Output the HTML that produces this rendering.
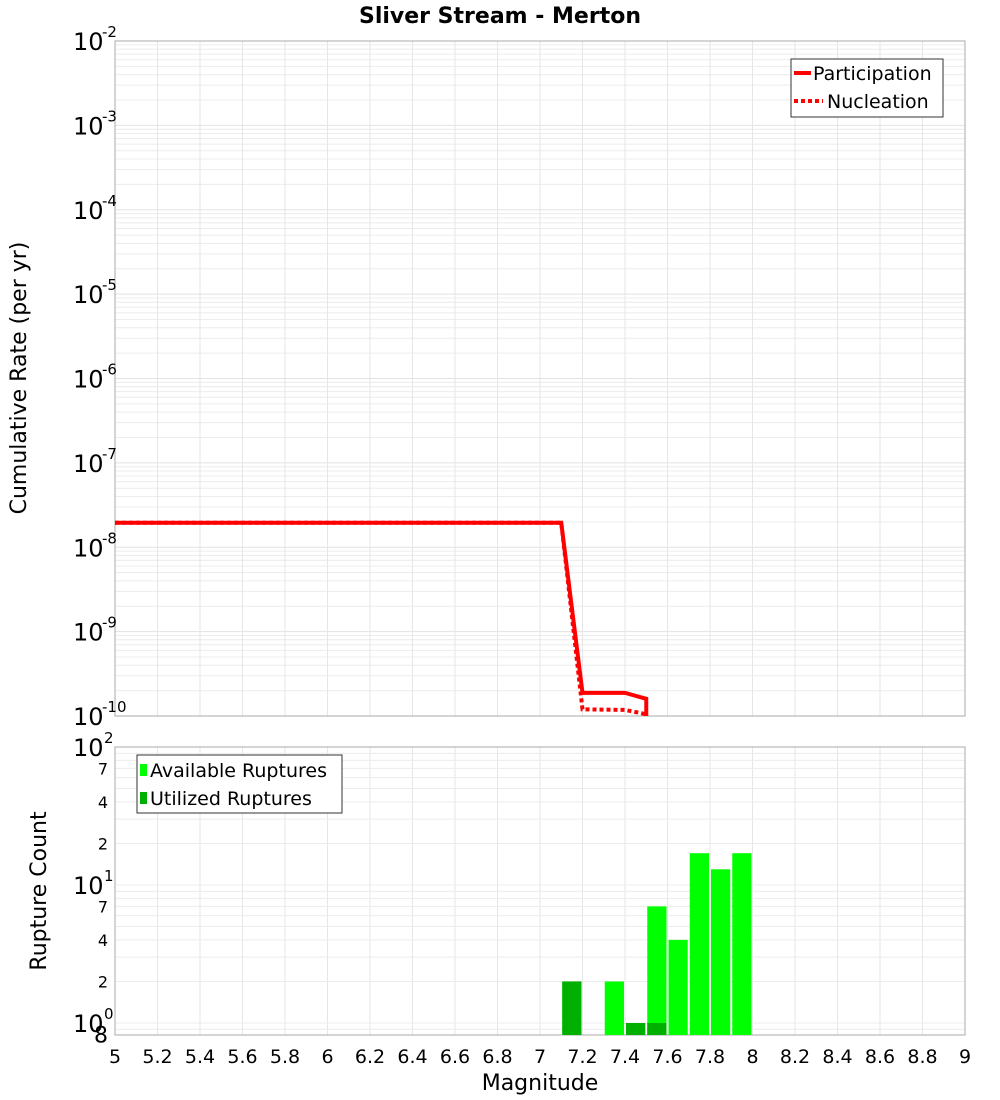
<!DOCTYPE html>
<html><head><meta charset="utf-8"><style>
html,body{margin:0;padding:0;background:#fff;}
svg{display:block;font-family:"DejaVu Sans","Liberation Sans",sans-serif;}
</style></head><body>
<svg id="chart" width="1000" height="1100" viewBox="0 0 1000 1100" xmlns="http://www.w3.org/2000/svg">
<text x="500" y="23" text-anchor="middle" font-size="22" font-weight="bold">Sliver Stream - Merton</text>
<g id="topG"></g><g id="botG"></g>
<text transform="translate(26,378) rotate(-90)" text-anchor="middle" font-size="22">Cumulative Rate (per yr)</text>
<text transform="translate(46,891) rotate(-90)" text-anchor="middle" font-size="22">Rupture Count</text>
<text x="540" y="1090" text-anchor="middle" font-size="22">Magnitude</text>
</svg>
<script>
const mags=[5,7.1,7.2,7.4,7.5,7.5];
const participation=[1.95e-8,1.95e-8,1.88e-10,1.88e-10,1.6e-10,1e-10];
const nucleation=[1.95e-8,1.95e-8,1.2e-10,1.18e-10,1.05e-10,1e-10];
const binStarts=[7.1,7.3,7.4,7.5,7.6,7.7,7.8,7.9];
const available=[2,2,1,7,4,17,13,17];
const utilized=[2,0,1,1,0,0,0,0];
const xTicks=[5,5.2,5.4,5.6,5.8,6,6.2,6.4,6.6,6.8,7,7.2,7.4,7.6,7.8,8,8.2,8.4,8.6,8.8,9];

const NS="http://www.w3.org/2000/svg";
const L=115,R=965;
const X=m=>L+(m-5)/4*(R-L);
const TT=41,TB=716;
const Yt=v=>TT+(-2-Math.log10(v))*(TB-TT)/8;
const BT=747,BB=1035;
const Yb=v=>BT+(2-Math.log10(v))*138;
function el(p,t,a,txt){const e=document.createElementNS(NS,t);for(const k in a)e.setAttribute(k,a[k]);if(txt!==undefined)e.textContent=txt;p.appendChild(e);return e;}
const topG=document.getElementById('topG'),botG=document.getElementById('botG');

for(let d=-10;d<-2;d++){for(let k=1;k<10;k++){const y=Yt(k*Math.pow(10,d));const g=el(topG,'line',{x1:L,x2:R,y1:y,y2:y,stroke:k==1?'#e2e2e2':'#ececec','stroke-width':1});

}}
xTicks.forEach(m=>{const g=el(topG,'line',{x1:X(m),x2:X(m),y1:TT,y2:TB,stroke:'#e6e6e6'});


const g2=el(botG,'line',{x1:X(m),x2:X(m),y1:BT,y2:BB,stroke:'#e6e6e6'});

});
const f1=el(topG,'rect',{x:L,y:TT,width:R-L,height:TB-TT,fill:'none',stroke:'#aaa'});


for(let d=-10;d<=-2;d++){const y=Yt(Math.pow(10,d));const t=el(topG,'text',{x:73,y:y+9,'font-size':24},'10');


const s=el(topG,'text',{x:102,y:y-4,'font-size':15},String(d));

}
const pts=(xs,ys,f)=>xs.map((m,i)=>X(m)+','+f(ys[i])).join(' ');
const nl=el(topG,'polyline',{points:pts(mags,nucleation,Yt),fill:'none',stroke:'#f00','stroke-width':4,'stroke-dasharray':'4,3'});


const pl=el(topG,'polyline',{points:pts(mags,participation,Yt),fill:'none',stroke:'#f00','stroke-width':4});


const lg=el(topG,'g',{});


el(lg,'rect',{x:791,y:59,width:152,height:58,fill:'#fff',stroke:'#333'});
el(lg,'line',{x1:794,x2:811,y1:73,y2:73,stroke:'#f00','stroke-width':4});
const lt1=el(lg,'text',{x:813,y:80,'font-size':19},'Participation');


el(lg,'line',{x1:794,x2:823,y1:101,y2:101,stroke:'#f00','stroke-width':4,'stroke-dasharray':'4,3'});
const lt2=el(lg,'text',{x:827,y:108,'font-size':19},'Nucleation');



for(let d=-1;d<2;d++){for(let k=1;k<10;k++){const v=k*Math.pow(10,d);const y=Yb(v);if(y>BB||y<BT)continue;const g=el(botG,'line',{x1:L,x2:R,y1:y,y2:y,stroke:'#ececec'});

}}
const f2=el(botG,'rect',{x:L,y:BT,width:R-L,height:BB-BT,fill:'none',stroke:'#aaa'});


binStarts.forEach((m,i)=>{const x0=X(m)+1,w=X(m+0.1)-X(m)-2;
const b=el(botG,'rect',{x:x0,y:Yb(available[i]),width:w,height:BB-Yb(available[i]),fill:'#00ff00'});


if(utilized[i]>0){const u=el(botG,'rect',{x:x0,y:Yb(utilized[i]),width:w,height:BB-Yb(utilized[i]),fill:'#00b000'});

}});
[0,1,2].forEach(d=>{const y=Yb(Math.pow(10,d));const t=el(botG,'text',{x:73,y:y+9,'font-size':24},'10');


const s=el(botG,'text',{x:104,y:y-4,'font-size':15},String(d));

});
[[2,2],[4,4],[7,7],[2,20],[4,40],[7,70],[8,0.8]].forEach(([lab,v])=>{const t=el(botG,'text',{x:108,y:Yb(v)+6,'font-size':v<1?22:16,'text-anchor':'end'},String(lab));

});
xTicks.forEach(m=>{const t=el(botG,'text',{x:X(m),y:1063,'font-size':19,'text-anchor':'middle'},String(m));

});
const lb=el(botG,'g',{});


el(lb,'rect',{x:137,y:755,width:205,height:58,fill:'#fff',stroke:'#333'});
el(lb,'rect',{x:140,y:764,width:7,height:12,fill:'#00ff00'});
const b1=el(lb,'text',{x:150,y:777,'font-size':19},'Available Ruptures');


el(lb,'rect',{x:140,y:792,width:7,height:12,fill:'#00b000'});
const b2=el(lb,'text',{x:150,y:805,'font-size':19},'Utilized Ruptures');


</script>
</body></html>
